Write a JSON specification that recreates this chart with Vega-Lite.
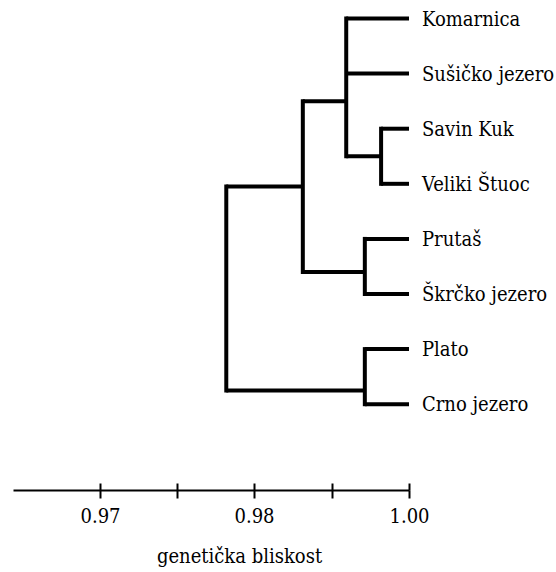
{
  "$schema": "https://vega.github.io/schema/vega-lite/v6.json",
  "width": 396,
  "height": 490,
  "autosize": {"type": "none"},
  "padding": {"left": 13, "top": 0, "right": 147, "bottom": 82},
  "background": "white",
  "config": {
    "view": {"stroke": null},
    "font": "DejaVu Serif Condensed",
    "text": {"font": "DejaVu Serif Condensed"},
    "axis": {"labelFont": "DejaVu Serif Condensed", "titleFont": "DejaVu Serif Condensed"}
  },
  "datasets": {
    "branches": [
      {"from": 0.9919, "to": 1.0, "pos": 1},
      {"from": 0.9919, "to": 1.0, "pos": 2},
      {"from": 0.9964, "to": 1.0, "pos": 3},
      {"from": 0.9964, "to": 1.0, "pos": 4},
      {"from": 0.9943, "to": 1.0, "pos": 5},
      {"from": 0.9943, "to": 1.0, "pos": 6},
      {"from": 0.9943, "to": 1.0, "pos": 7},
      {"from": 0.9943, "to": 1.0, "pos": 8},
      {"from": 0.9919, "to": 0.9964, "pos": 3.5},
      {"from": 0.9863, "to": 0.9919, "pos": 2.5},
      {"from": 0.9863, "to": 0.9943, "pos": 5.6},
      {"from": 0.9782, "to": 0.9863, "pos": 4.05},
      {"from": 0.9782, "to": 0.9943, "pos": 7.75}
    ],
    "joins": [
      {"sim": 0.9964, "top": 3, "bottom": 4},
      {"sim": 0.9919, "top": 1, "bottom": 3.5},
      {"sim": 0.9943, "top": 5, "bottom": 6},
      {"sim": 0.9863, "top": 2.5, "bottom": 5.6},
      {"sim": 0.9943, "top": 7, "bottom": 8},
      {"sim": 0.9782, "top": 4.05, "bottom": 7.75}
    ],
    "leaves": [
      {"name": "Komarnica", "pos": 1, "sim": 1.0},
      {"name": "Sušičko jezero", "pos": 2, "sim": 1.0},
      {"name": "Savin Kuk", "pos": 3, "sim": 1.0},
      {"name": "Veliki Štuoc", "pos": 4, "sim": 1.0},
      {"name": "Prutaš", "pos": 5, "sim": 1.0},
      {"name": "Škrčko jezero", "pos": 6, "sim": 1.0},
      {"name": "Plato", "pos": 7, "sim": 1.0},
      {"name": "Crno jezero", "pos": 8, "sim": 1.0}
    ]
  },
  "resolve": {"axis": {"x": "independent"}},
  "layer": [
    {
      "data": {"name": "branches"},
      "mark": {"type": "rule", "color": "black", "strokeWidth": 4, "strokeCap": "butt"},
      "encoding": {
        "x": {
          "field": "from",
          "type": "quantitative",
          "scale": {
            "domain": [0.96435, 0.97, 0.98, 1.0],
            "range": [0, 87, 241, 396],
            "nice": false,
            "zero": false,
            "clamp": false
          },
          "axis": {
            "orient": "bottom",
            "values": [0.97, 0.975, 0.98, 0.99, 1.0],
            "labelExpr": "datum.value == 0.975 || datum.value == 0.99 ? '' : format(datum.value, '.2f')",
            "domainColor": "black",
            "domainWidth": 2,
            "tickColor": "black",
            "tickWidth": 2,
            "tickSize": 8,
            "labelColor": "black",
            "labelFontSize": 20,
            "labelPadding": 8,
            "labelFlush": false,
            "grid": false,
            "title": "genetička bliskost",
            "titleColor": "black",
            "titleFontSize": 20,
            "titleFontWeight": "normal",
            "titleX": 226,
            "titleY": 72,
            "titleBaseline": "alphabetic"
          }
        },
        "x2": {"field": "to"},
        "y": {
          "field": "pos",
          "type": "quantitative",
          "scale": {"domain": [0.664, 9.557], "reverse": true, "nice": false, "zero": false},
          "axis": null
        }
      }
    },
    {
      "data": {"name": "joins"},
      "mark": {"type": "rule", "color": "black", "strokeWidth": 4, "strokeCap": "square"},
      "encoding": {
        "x": {"field": "sim", "type": "quantitative", "axis": null},
        "y": {"field": "top", "type": "quantitative", "axis": null},
        "y2": {"field": "bottom"}
      }
    },
    {
      "data": {"name": "leaves"},
      "mark": {
        "type": "text",
        "align": "left",
        "baseline": "middle",
        "dx": 13,
        "dy": 1,
        "fontSize": 20,
        "color": "black"
      },
      "encoding": {
        "x": {
          "field": "sim",
          "type": "quantitative",
          "axis": {
            "orient": "bottom",
            "values": [0.97, 0.975, 0.98, 0.99, 1.0],
            "domain": false,
            "labels": false,
            "grid": false,
            "tickColor": "black",
            "tickWidth": 2,
            "tickSize": -7,
            "title": null
          }
        },
        "y": {"field": "pos", "type": "quantitative", "axis": null},
        "text": {"field": "name"}
      }
    }
  ]
}
